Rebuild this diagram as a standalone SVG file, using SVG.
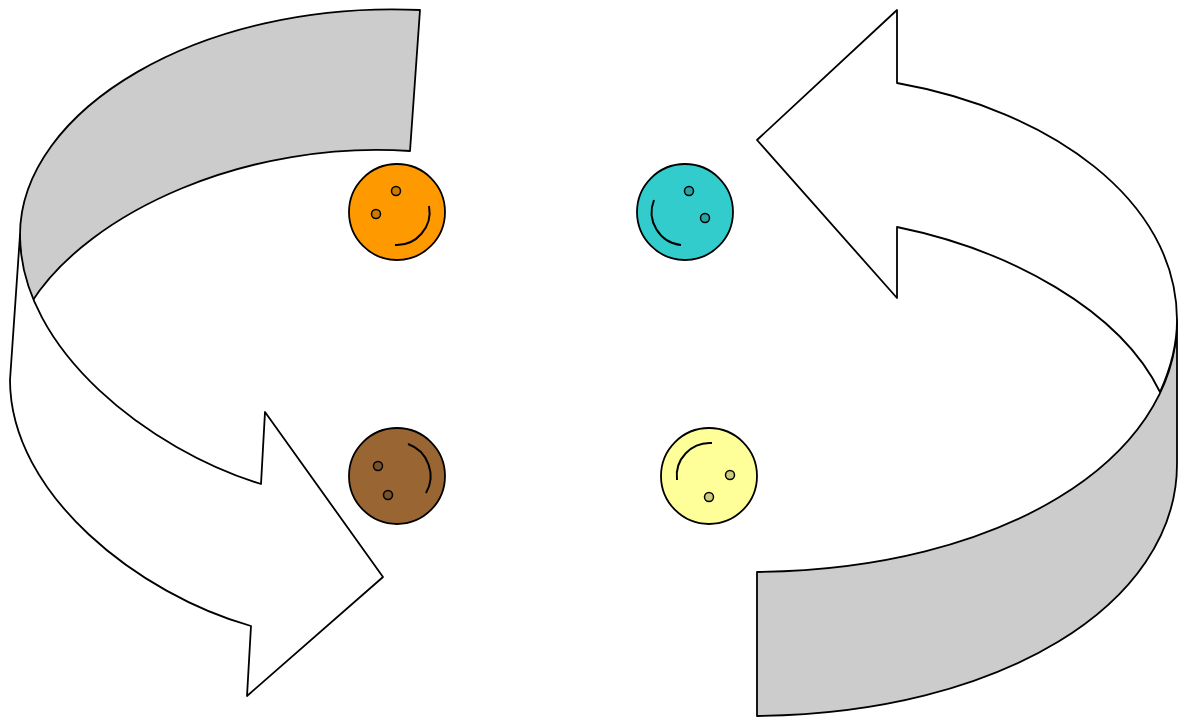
<svg xmlns="http://www.w3.org/2000/svg" width="1182" height="718" viewBox="0 0 1182 718">
  <style>
    .band { fill: #cccccc; stroke: #000; stroke-width: 1.8; stroke-linejoin: round; }
    .front { fill: #ffffff; stroke: #000; stroke-width: 1.8; stroke-linejoin: round; }
    .face { stroke: #000; stroke-width: 1.8; }
    .eye { stroke: #000; stroke-width: 1.5; }
    .mouth { fill: none; stroke: #000; stroke-width: 2; }
  </style>
  <rect width="1182" height="718" fill="#ffffff"/>

  <g id="connectors">
    <!-- left curved arrow: back band, then front with head -->
    <path class="band" d="M20,235 C20,110 200,0 420,10 L410,151 C250,140 90,210 31,303 C25,285 20,260 20,235 Z"/>
    <path class="front" d="M20,235 C20,350 150,450 261,484 L265,412 L383,577 L247,696 L251,626 C140,595 10,495 10,380 Z"/>
    <!-- right curved arrow: back band, then front with head -->
    <path class="band" d="M1177,320 C1177,460 1000,570 757,572 L757,716 C1000,714 1177,604 1177,464 Z"/>
    <path class="front" d="M897,83 C1050,110 1177,200 1177,320 C1177,345 1170,370 1160,392 C1120,310 1010,250 897,227 L897,298 L757,140 L897,10 Z"/>
  </g>

  <g id="face-orange">
    <circle class="face" cx="397" cy="212" r="48" fill="#ff9900"/>
    <circle class="eye" cx="396" cy="191" r="4.5" fill="#cc7a00"/>
    <circle class="eye" cx="376" cy="214" r="4.5" fill="#cc7a00"/>
    <path class="mouth" d="M429,206 A33,33 0 0 1 395,245"/>
  </g>

  <g id="face-teal">
    <circle class="face" cx="685" cy="212" r="48" fill="#33cccc"/>
    <circle class="eye" cx="689" cy="191" r="4.5" fill="#29a3a3"/>
    <circle class="eye" cx="705" cy="218" r="4.5" fill="#29a3a3"/>
    <path class="mouth" d="M681,245 A33,33 0 0 1 654,200"/>
  </g>

  <g id="face-brown">
    <circle class="face" cx="397" cy="476" r="48" fill="#996633"/>
    <circle class="eye" cx="378" cy="466" r="4.5" fill="#7a5229"/>
    <circle class="eye" cx="388" cy="495" r="4.5" fill="#7a5229"/>
    <path class="mouth" d="M408,444 A34,34 0 0 1 426,493"/>
  </g>

  <g id="face-yellow">
    <circle class="face" cx="709" cy="476" r="48" fill="#ffff99"/>
    <circle class="eye" cx="730" cy="475" r="4.5" fill="#cccc7a"/>
    <circle class="eye" cx="709" cy="497" r="4.5" fill="#cccc7a"/>
    <path class="mouth" d="M677,480 A33,33 0 0 1 712,443"/>
  </g>
</svg>
